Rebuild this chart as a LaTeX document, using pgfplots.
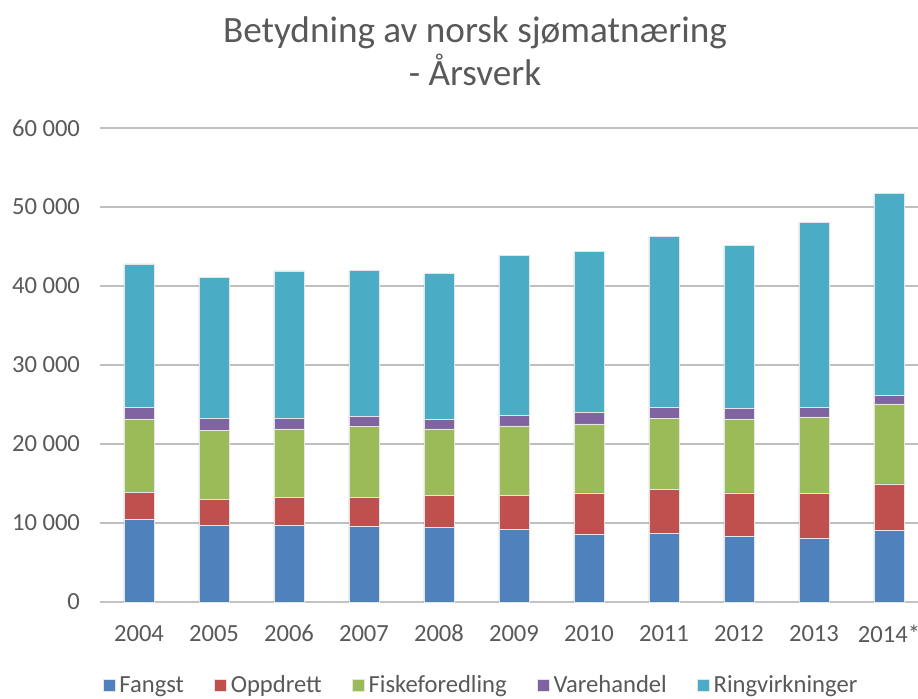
\documentclass[border=0pt]{standalone}
\usepackage{pgfplots}
\pgfplotsset{compat=1.18}
\usepackage{fontspec}
\setmainfont{Carlito}
\definecolor{cF}{HTML}{4F81BD}
\definecolor{cO}{HTML}{C0504D}
\definecolor{cFF}{HTML}{9BBB59}
\definecolor{cV}{HTML}{8064A2}
\definecolor{cR}{HTML}{4BACC6}
\definecolor{txt}{HTML}{595959}
\definecolor{grid}{HTML}{D9D9D9}
\pgfplotstableread{
x F O FF V R
0 10470 3365 9330 1475 18145
1 9705 3295 8734 1516 17850
2 9747 3503 8650 1300 18700
3 9578 3672 8940 1310 18480
4 9451 4009 8440 1222 18438
5 9198 4262 8820 1305 20297
6 8565 5232 8735 1434 20422
7 8692 5527 9030 1350 21646
8 8312 5485 9368 1308 20632
9 8059 5654 9705 1223 23418
10 9030 5907 10126 1055 25612
}\data
\begin{document}
\begin{tikzpicture}
\useasboundingbox (-50pt,-48.5pt) rectangle (409pt,301pt);
\begin{axis}[
  at={(0,0)}, anchor=south west,
  scale only axis, width=409pt, height=237pt,
  ybar stacked, bar width=15pt,
  xmin=-0.52, xmax=10.387,
  ymin=0, ymax=60000,
  scaled y ticks=false,
  xtick={0,...,10},
  xticklabels={2004,2005,2006,2007,2008,2009,2010,2011,2012,2013,2014*},
  ytick={0,10000,...,60000},
  yticklabels={0,10 000,20 000,30 000,40 000,50 000,60 000},
  xmajorgrids=false, ymajorgrids=true, grid style={grid, line width=0.8pt},
  axis line style={draw=none},
  axis x line*=bottom, axis y line*=left,
  x axis line style={draw=grid!90!black, line width=1pt},
  major tick length=0pt,
  tick label style={font=\fontsize{12.3}{14}\selectfont, text=txt},
  xticklabel style={yshift=-8pt},
  yticklabel style={xshift=-6.5pt},
  legend columns=5,
  legend style={draw=none, at={(0.467,-0.177)}, anchor=center,
    font=\fontsize{12.3}{14}\selectfont, text=txt, inner sep=0pt,
    /tikz/every odd column/.append style={column sep=0pt},
    /tikz/every even column/.append style={column sep=13pt}},
  legend image code/.code={\fill[#1] (0pt,-3pt) rectangle (6pt,3pt);},
  legend cell align=left,
  every axis plot/.append style={draw=white!80!gray, line width=0.4pt},
  clip=false,
]
\addplot[fill=cF] table[x=x,y=F]{\data};
\addplot[fill=cO] table[x=x,y=O]{\data};
\addplot[fill=cFF] table[x=x,y=FF]{\data};
\addplot[fill=cV] table[x=x,y=V]{\data};
\addplot[fill=cR] table[x=x,y=R]{\data};
\legend{Fangst,Oppdrett,Fiskeforedling,Varehandel,Ringvirkninger}
\end{axis}
\node[text=txt, font=\fontsize{18.6}{21.5}\selectfont, align=center] at (187.5pt,275.5pt) {Betydning av norsk sjømatnæring\\- Årsverk};
\end{tikzpicture}
\end{document}
